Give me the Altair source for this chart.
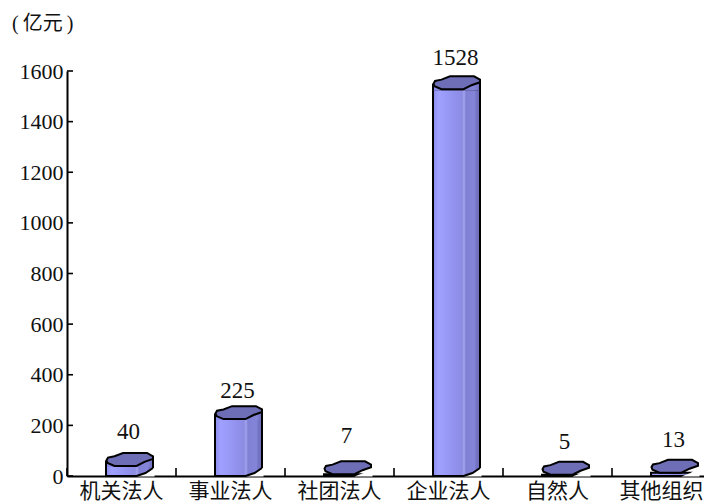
import altair as alt
import pandas as pd

categories = ["机关法人", "事业法人", "社团法人", "企业法人", "自然人", "其他组织"]
values = [40, 225, 7, 1528, 5, 13]
labels = ["40", "225", "7", "1528", "5", "13"]
label_lift = [34, 28, 38, 31, 33, 33]
cat_shift = [0, 0, 0, 0, 0, -5]
y_ticks = [0, 200, 400, 600, 800, 1000, 1200, 1400, 1600]

FONT = "Liberation Serif, Noto Sans CJK SC"
W, H = 637, 405

df = pd.DataFrame({"cat": categories, "v": values, "label": labels})
ticks_df = pd.DataFrame({"t": y_ticks})

x = alt.X("cat:N", sort=categories, scale=alt.Scale(paddingInner=0, paddingOuter=0, range=[0, 654]),
          axis=alt.Axis(title=None, labelAngle=0, ticks=False, domainWidth=2, domainColor="black",
                        labels=False, grid=False))
y = alt.Y("v:Q", scale=alt.Scale(domain=[0, 1600], nice=False),
          axis=alt.Axis(title=None, values=y_ticks, ticks=False, domainWidth=2, domainColor="black", format="d",
                        labelFont=FONT, labelFontSize=22, labelColor="#111", labelPadding=4, grid=False,
                        labelFlush=False))
xc = alt.X("cat:N", sort=categories)

grad = alt.Gradient(gradient="linear", x1=0, x2=1, y1=0, y2=0, stops=[
    alt.GradientStop(offset=0.0, color="#8C8CEC"),
    alt.GradientStop(offset=0.12, color="#A0A0FF"),
    alt.GradientStop(offset=0.45, color="#9292EE"),
    alt.GradientStop(offset=0.62, color="#8C8CE2"),
    alt.GradientStop(offset=0.66, color="#A4A4EE"),
    alt.GradientStop(offset=0.70, color="#8080D4"),
    alt.GradientStop(offset=0.88, color="#8484D8"),
    alt.GradientStop(offset=0.92, color="#7474C4"),
    alt.GradientStop(offset=1.0, color="#6C6CB8"),
])
grad_r = alt.Gradient(gradient="linear", x1=0, x2=1, y1=0, y2=0, stops=[
    alt.GradientStop(offset=0.0, color="#8C8CE2"),
    alt.GradientStop(offset=0.2, color="#8080D4"),
    alt.GradientStop(offset=0.7, color="#8484D8"),
    alt.GradientStop(offset=1.0, color="#6C6CB8"),
])

TOP = ("M-15,-5.6 L-13.5,-8.3 L-7,-9.6 L1.5,-12.9 L25.5,-12.9 L31.5,-9.6 L31.5,-7 "
       "L23,-4 L15,0 L-7,0 L-14,-3 Z")
RIGHT_PATCH = "M14,0 L23,-4 L31.5,-7 L31.5,1 L14,1 Z"
LEFT_PATCH = "M-15.5,-5.5 L-15.5,1 L-7,1 L-7,0 Z"
EDGES = "M31.5,-7 L31.5,1 M-15.5,-5.5 L-15.5,1"
CUT = "M33,-8 L31.5,-8 L24,-3 L15,0.5 L33,0.5 Z"
CUT_LINE = "M31.5,-8 L24,-3 L15,0"

bars = alt.Chart(df).mark_bar(size=47, xOffset=8, color=grad, stroke="black", strokeWidth=2).encode(x=x, y=y)
tall = alt.Chart(df).transform_filter("datum.v > 20")
patch_r = tall.mark_point(shape=RIGHT_PATCH, size=4, filled=True, fill=grad_r, opacity=1,
                          strokeWidth=0).encode(x=xc, y="v:Q")
patch_l = tall.mark_point(shape=LEFT_PATCH, size=4, filled=True, fill="#8C8CEC", opacity=1,
                          strokeWidth=0).encode(x=xc, y="v:Q")
edges = tall.mark_point(shape=EDGES, size=4, filled=False, stroke="black", opacity=1,
                        strokeWidth=2).encode(x=xc, y="v:Q")
cut = alt.Chart(df).mark_point(shape=CUT, size=4, filled=True, fill="white", opacity=1, strokeWidth=0).encode(
    x=xc, y=alt.datum(0))
cut_line = tall.mark_point(shape=CUT_LINE, size=4, filled=False, stroke="black", opacity=1,
                           strokeWidth=2).encode(x=xc, y=alt.datum(0))
tops = alt.Chart(df).mark_point(shape=TOP, size=4, filled=True, fill="#6E6EB6", stroke="black", opacity=1,
                                strokeWidth=2).encode(x=xc, y="v:Q")
texts = [
    alt.Chart(df).transform_filter(alt.datum.cat == c).mark_text(
        font=FONT, fontSize=23, color="#111", xOffset=7, dy=-d).encode(x=xc, y="v:Q", text="label:N")
    for c, d in zip(categories, label_lift)
]
cat_texts = [
    alt.Chart(df).transform_filter(alt.datum.cat == c).mark_text(
        font=FONT, fontSize=21, color="#111", baseline="top", dx=s, dy=5).encode(
        x=xc, y=alt.value(H), text="cat:N")
    for c, s in zip(categories, cat_shift)
]
y_marks = alt.Chart(ticks_df).mark_rule(color="black", strokeWidth=1.6).encode(
    x=alt.value(0), x2=alt.value(6), y=alt.Y("t:Q"))
x_marks = alt.Chart(df).mark_rule(color="black", strokeWidth=1.6).encode(
    x=alt.X("cat:N", sort=categories, bandPosition=0), y=alt.value(H - 8), y2=alt.value(H))
unit = alt.Chart(pd.DataFrame({"t": ["(\u2009亿元\u2009)"]})).mark_text(
    font=FONT, fontSize=20, color="#111", align="left", baseline="middle").encode(
    x=alt.value(-55), y=alt.value(-47), text="t:N")

chart = alt.layer(bars, cut, patch_r, patch_l, edges, cut_line, tops, *texts, *cat_texts,
                  y_marks, x_marks, unit).properties(
    width=W, height=H,
    autosize=alt.AutoSizeParams(type="none"),
    padding={"left": 59, "top": 63, "right": 0, "bottom": 28},
    background="white",
).configure_view(stroke=None)

chart.save("out.html", embed_options={"renderer": "svg", "actions": False})
